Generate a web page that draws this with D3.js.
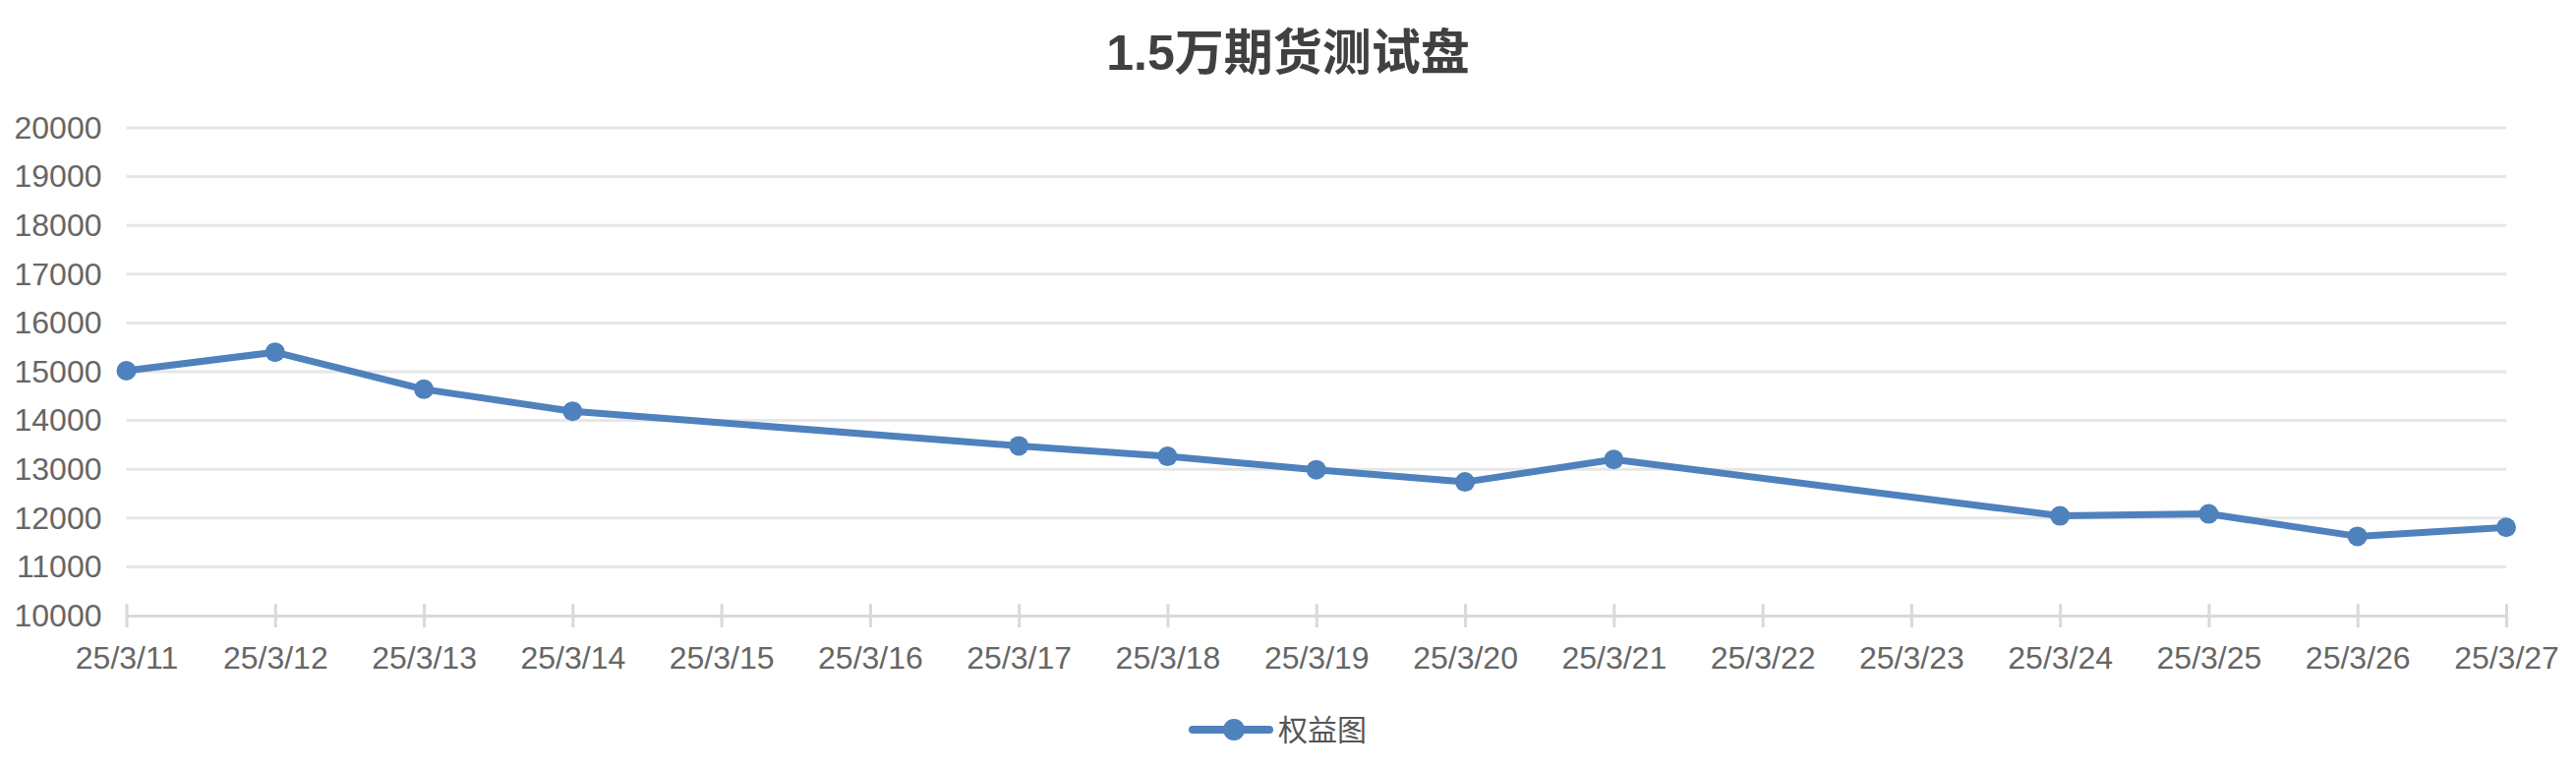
<!DOCTYPE html>
<html>
<head>
<meta charset="utf-8">
<script src="https://cdn.jsdelivr.net/npm/d3@7"></script>
<style>
  body { margin: 0; background: #fff; }
  text { font-family: "Liberation Sans", Arial, "Noto Sans CJK SC", sans-serif; }
</style>
</head>
<body>
<div id="chart"></div>
<script>
// 1: DATA
const title = "1.5万期货测试盘";
const seriesName = "权益图";
const dates = ["25/3/11", "25/3/12", "25/3/13", "25/3/14", "25/3/15", "25/3/16", "25/3/17",
               "25/3/18", "25/3/19", "25/3/20", "25/3/21", "25/3/22", "25/3/23", "25/3/24",
               "25/3/25", "25/3/26", "25/3/27"];
// no trading on weekends -> null
const equity = [15020, 15400, 14640, 14190, null, null, 13480,
                13265, 12990, 12740, 13200, null, null, 12045,
                12085, 11625, 11810];
const yTicks = [10000, 11000, 12000, 13000, 14000, 15000, 16000, 17000, 18000, 19000, 20000];

// 2: LAYOUT
const W = 2620, H = 782;
const margin = { top: 130, right: 71, bottom: 156, left: 128.5 };
const innerW = W - margin.left - margin.right,
      innerH = H - margin.top - margin.bottom;
const blue = "#4f81bd";

const svg = d3.select("#chart")
    .append("svg")
    .attr("width", W)
    .attr("height", H);

const g = svg.append("g")
    .attr("transform", `translate(${margin.left},${margin.top})`);

// 3: SCALES
const xScale = d3.scalePoint()
    .domain(dates)
    .range([0, innerW]);

const yScale = d3.scaleLinear()
    .domain([10000, 20000])
    .range([innerH, 0]);

// 4: GRID + AXES
g.append("g")
    .selectAll("line")
    .data(yTicks.slice(1))
    .enter()
    .append("line")
    .attr("x1", 0)
    .attr("x2", innerW)
    .attr("y1", d => yScale(d))
    .attr("y2", d => yScale(d))
    .attr("stroke", "#e6e6e6")
    .attr("stroke-width", 3);

const yAxis = g.append("g")
    .call(d3.axisLeft(yScale).tickValues(yTicks).tickSize(0).tickPadding(25).tickFormat(d3.format("d")));
yAxis.select(".domain").remove();
yAxis.selectAll("text")
    .attr("fill", "#666")
    .style("font-size", "32px");

const xAxis = g.append("g")
    .attr("transform", `translate(0,${innerH})`)
    .call(d3.axisBottom(xScale).tickSizeInner(12).tickSizeOuter(0).tickPadding(19));
xAxis.select(".domain")
    .attr("stroke", "#d9d9d9")
    .attr("stroke-width", 3);
xAxis.selectAll(".tick line")
    .attr("y1", -12)
    .attr("y2", 12)
    .attr("stroke", "#d9d9d9")
    .attr("stroke-width", 3);
xAxis.selectAll("text")
    .attr("fill", "#666")
    .style("font-size", "32px");

// 5: LINE + POINTS
const points = dates.map((d, i) => ({ date: d, value: equity[i] }))
    .filter(d => d.value !== null);

g.append("path")
    .datum(points)
    .attr("d", d3.line()
        .x(d => xScale(d.date))
        .y(d => yScale(d.value)))
    .attr("fill", "none")
    .attr("stroke", blue)
    .attr("stroke-width", 7)
    .attr("stroke-linejoin", "round");

g.selectAll(".dot")
    .data(points)
    .enter()
    .append("circle")
    .attr("class", "dot")
    .attr("cx", d => xScale(d.date))
    .attr("cy", d => yScale(d.value))
    .attr("r", 10)
    .attr("fill", blue);

// 6: TITLE
svg.append("text")
    .attr("x", W / 2)
    .attr("y", 71)
    .attr("text-anchor", "middle")
    .attr("fill", "#404040")
    .style("font-size", "50px")
    .style("font-weight", "bold")
    .text(title);

// 7: LEGEND
const legend = svg.append("g")
    .attr("transform", "translate(1213,742)");
legend.append("line")
    .attr("x1", 0)
    .attr("x2", 78)
    .attr("stroke", blue)
    .attr("stroke-width", 8)
    .attr("stroke-linecap", "round");
legend.append("circle")
    .attr("cx", 42)
    .attr("r", 11)
    .attr("fill", blue);
legend.append("text")
    .attr("x", 87)
    .attr("y", 11)
    .attr("fill", "#555")
    .style("font-size", "30px")
    .text(seriesName);
</script>
</body>
</html>
